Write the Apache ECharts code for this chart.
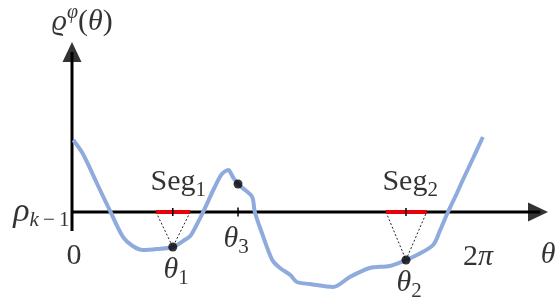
<!DOCTYPE html>
<html>
<head>
<meta charset="utf-8">
<script src="https://cdn.jsdelivr.net/npm/echarts@6/dist/echarts.min.js"></script>
<style>
html,body{margin:0;padding:0;background:#fff;}
#chart{width:558px;height:308px;}
</style>
</head>
<body>
<div id="chart"></div>
<script>
// ---- data (θ in radians, ρ relative to ρ_{k-1}) ----
const theta = [0.02, 0.17, 0.39, 0.59, 0.79, 0.94, 1.10, 1.32, 1.56, 1.72, 1.83, 1.92, 2.03,
  2.21, 2.32, 2.42, 2.49, 2.57, 2.68, 2.79, 2.83, 2.94, 3.10, 3.22, 3.38, 3.48, 3.68,
  4.04, 4.30, 4.61, 4.92, 5.17, 5.34, 5.59, 5.70, 5.82, 5.96, 6.05, 6.21, 6.36];
const rho = [7.2, 5.8, 2.8, 0.1, -2.5, -3.4, -3.8, -3.7, -3.5, -2.9, -2.4, -1.4, 0.0,
  2.5, 3.8, 4.2, 3.5, 2.8, 2.2, 1.5, 0.0, -2.1, -4.8, -5.6, -6.3, -7.0, -7.2,
  -7.5, -6.5, -5.6, -5.4, -4.8, -4.3, -3.3, -1.8, 0.0, 1.9, 3.2, 5.4, 7.5];
const pointTheta = [1.56, 5.17, 2.57];   // θ1, θ2, θ3
const pointRho = [-3.5, -4.8, 2.8];
const seg1 = [1.30, 1.83];
const seg2 = [4.86, 5.49];
const baseRho = 0;            // ρ_{k-1}
const xLabels = ['0', '2π'];
const xLabelTheta = [0, 2 * Math.PI];

// ---- layout ----
const X_MIN = -1.1146, X_MAX = 7.5232, Y_MIN = -9.6, Y_MAX = 21.2;
const FONT = "'Liberation Serif','DejaVu Serif',serif";
const rich = {
  it: {fontFamily: FONT, fontStyle: 'italic', fontSize: 30, color: '#000'},
  itL: {fontFamily: FONT, fontStyle: 'italic', fontSize: 34, color: '#000'},
  rm: {fontFamily: FONT, fontSize: 30, color: '#000'},
  sub: {fontFamily: FONT, fontSize: 21, color: '#000', padding: [17, 0, 0, 0]},
  subi: {fontFamily: FONT, fontSize: 21, fontStyle: 'italic', color: '#000', padding: [17, 0, 0, 0]},
  sup: {fontFamily: FONT, fontSize: 20, fontStyle: 'italic', color: '#000', padding: [0, 0, 19, 0]}
};

const curve = theta.map((t, i) => [t, rho[i]]);
const vShape = (seg, i) => [[seg[0], baseRho], [pointTheta[i], pointRho[i]], [seg[1], baseRho]];
const mid = seg => (seg[0] + seg[1]) / 2;

const labels = [
  {value: [0.16, 19.0], text: '{it|ϱ}{sup|φ}{rm|(}{it|θ}{rm|)}'},
  {value: [-0.03, 0.0], text: '{itL|ρ}{subi|k}{sub|\u2009−\u20091}', label: {position: 'left', distance: 0}},
  {value: [xLabelTheta[0] + 0.03, -4.4], text: '{rm|' + xLabels[0] + '}'},
  {value: [xLabelTheta[1], -4.5], text: '{rm|2}{it|π}'},
  {value: [7.37, -4.3], text: '{it|θ}'},
  {value: [pointTheta[0] + 0.05, -5.8], text: '{it|θ}{sub|1}'},
  {value: [pointTheta[1] + 0.05, -7.1], text: '{it|θ}{sub|2}'},
  {value: [pointTheta[2] - 0.03, -2.7], text: '{it|θ}{sub|3}'},
  {value: [mid(seg1) + 0.08, 3.0], text: '{rm|Seg}{sub|1}'},
  {value: [mid(seg2) + 0.06, 3.0], text: '{rm|Seg}{sub|2}'}
];

const chart = echarts.init(document.getElementById('chart'), null, {renderer: 'canvas'});
const lineBase = {type: 'line', showSymbol: false, symbol: 'none', silent: true, animation: false};
chart.setOption({
  animation: false,
  grid: {left: 0, right: 0, top: 0, bottom: 0},
  xAxis: {type: 'value', min: X_MIN, max: X_MAX, show: false},
  yAxis: {type: 'value', min: Y_MIN, max: Y_MAX, show: false},
  series: [
    // axes
    Object.assign({}, lineBase, {data: [[0, baseRho], [7.25, baseRho]], lineStyle: {color: '#000', width: 3}, z: 1}),
    Object.assign({}, lineBase, {data: [[0, -1.9], [0, 16.0]], lineStyle: {color: '#000', width: 3}, z: 1}),
    {
      type: 'scatter', silent: true, animation: false, z: 1,
      data: [{value: [7.214, baseRho], symbolRotate: -90}, {value: [0, 16.0], symbolRotate: 0}],
      symbol: 'triangle', symbolSize: [19, 20], itemStyle: {color: '#000'}
    },
    Object.assign({}, lineBase, {data: vShape(seg1, 0), lineStyle: {color: '#222', width: 1, type: [2, 2]}, z: 2}),
    Object.assign({}, lineBase, {data: vShape(seg2, 1), lineStyle: {color: '#222', width: 1, type: [2, 2]}, z: 2}),
    Object.assign({}, lineBase, {data: curve, smooth: 0.3, lineStyle: {color: '#8FAADC', width: 4}, z: 3}),
    Object.assign({}, lineBase, {data: [[seg1[0], baseRho], [seg1[1], baseRho]], lineStyle: {color: '#E8000B', width: 4}, z: 4}),
    Object.assign({}, lineBase, {data: [[seg2[0], baseRho], [seg2[1], baseRho]], lineStyle: {color: '#E8000B', width: 4}, z: 4}),
    Object.assign({}, lineBase, {data: [[pointTheta[0], baseRho + 0.4], [pointTheta[0], baseRho - 0.4]], lineStyle: {color: '#000', width: 1.5}, z: 5}),
    Object.assign({}, lineBase, {data: [[pointTheta[1], baseRho + 0.4], [pointTheta[1], baseRho - 0.4]], lineStyle: {color: '#000', width: 1.5}, z: 5}),
    Object.assign({}, lineBase, {data: [[pointTheta[2], baseRho + 0.45], [pointTheta[2], baseRho - 0.45]], lineStyle: {color: '#000', width: 1.5}, z: 5}),
    {
      type: 'scatter', silent: true, animation: false, z: 6,
      data: pointTheta.map((t, i) => [t, pointRho[i]]),
      symbolSize: 9, itemStyle: {color: '#000'}
    },
    {
      type: 'scatter', silent: true, animation: false, z: 7,
      data: labels, symbolSize: 1, itemStyle: {color: 'rgba(0,0,0,0)'},
      label: {show: true, position: 'inside', formatter: p => p.data.text, rich: rich}
    }
  ]
});
</script>
</body>
</html>
